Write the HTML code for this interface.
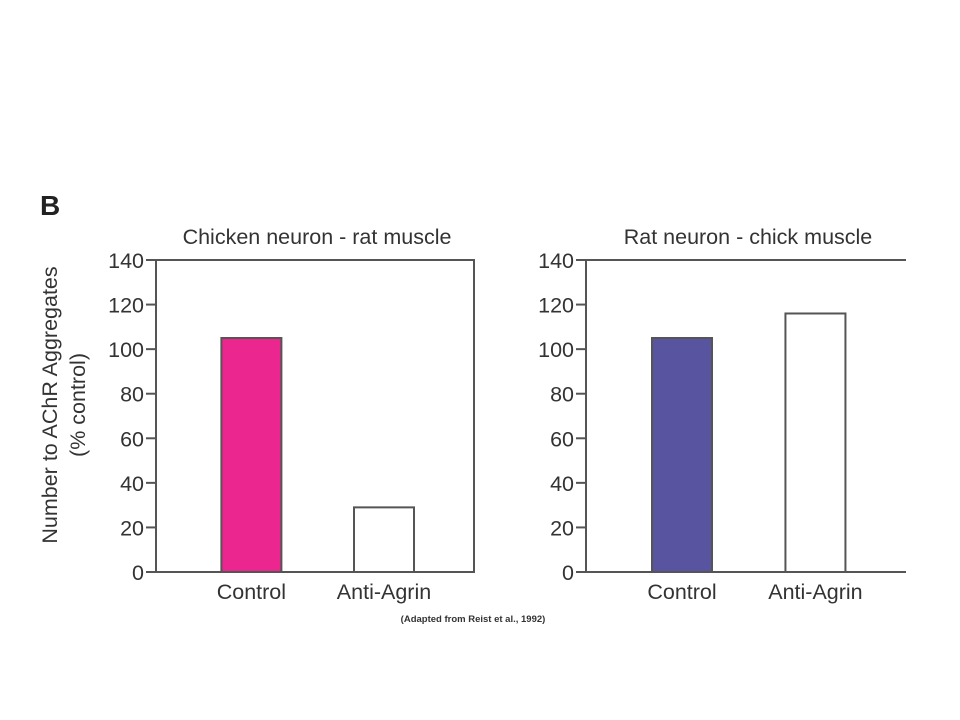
<!DOCTYPE html>
<html><head><meta charset="utf-8"><style>
body{margin:0;background:#fff;}
svg{display:block;font-family:"Liberation Sans",Arial,sans-serif;}
</style></head><body>
<svg id="fig" width="960" height="720" viewBox="0 0 960 720">
<text x="40" y="215" font-size="28" font-weight="bold" fill="#222">B</text>
<text transform="translate(57,405) rotate(-90)" text-anchor="middle" font-size="21.5" fill="#333">Number to AChR Aggregates</text>
<text transform="translate(85,405) rotate(-90)" text-anchor="middle" font-size="21.5" fill="#333">(% control)</text>
<text x="473" y="622" text-anchor="middle" font-size="9.5" font-weight="bold" fill="#333">(Adapted from Reist et al., 1992)</text>
<g id="charts"></g>
</svg>
<script>
const categories = ["Control", "Anti-Agrin"];
const leftValues = [105, 29];
const rightValues = [105, 116];
const tickValues = [0, 20, 40, 60, 80, 100, 120, 140];
const leftTitle = "Chicken neuron - rat muscle";
const rightTitle = "Rat neuron - chick muscle";

const NS = "http://www.w3.org/2000/svg";
const root = document.getElementById("charts");
function mk(tag, attrs, parent) {
  const e = document.createElementNS(NS, tag);
  for (const k in attrs) e.setAttribute(k, attrs[k]);
  parent.appendChild(e);
  return e;
}
function drawChart(x0, x1, values, colors, title, rightBorder, prefix) {
  const yTop = 260, yBot = 572, yMax = 140;
  const y = v => yBot - v / yMax * (yBot - yTop);
  const g = mk("g", {}, root);
  
  
  const t = mk("text", {x: (x0 + x1) / 2 + 2, y: 244, "text-anchor": "middle", "font-size": 21.5, fill: "#333"}, g);
  t.textContent = title;
  
  
  tickValues.forEach(v => {
    const l = mk("line", {x1: x0 - 10, x2: x0, y1: y(v), y2: y(v), stroke: "#555", "stroke-width": 2}, g);
    
    
    const tx = mk("text", {x: x0 - 12, y: y(v) + 8, "text-anchor": "end", "font-size": 21.5, fill: "#333"}, g);
    tx.textContent = v;
    
    
  });
  const fracs = [0.3, 0.717];
  values.forEach((v, i) => {
    const cx = x0 + (x1 - x0) * fracs[i];
    const r = mk("rect", {x: cx - 30, y: y(v), width: 60, height: yBot - y(v), fill: colors[i], stroke: "#555", "stroke-width": 2}, g);
    
    
    const lb = mk("text", {x: cx, y: 599, "text-anchor": "middle", "font-size": 21.5, fill: "#333"}, g);
    lb.textContent = categories[i];
    
    
  });
  let d = `M${x0},${yTop} L${x0},${yBot} L${x1},${yBot}`;
  if (rightBorder) d += ` L${x1},${yTop} Z`; else d += ` M${x0},${yTop} L${x1},${yTop}`;
  const ax = mk("path", {d: d, fill: "none", stroke: "#555", "stroke-width": 2}, g);
  
  
}
drawChart(156, 474, leftValues, ["#ec268f", "#fff"], leftTitle, true, "left");
drawChart(586, 906, rightValues, ["#58549f", "#fff"], rightTitle, false, "right");
</script>
</body></html>
